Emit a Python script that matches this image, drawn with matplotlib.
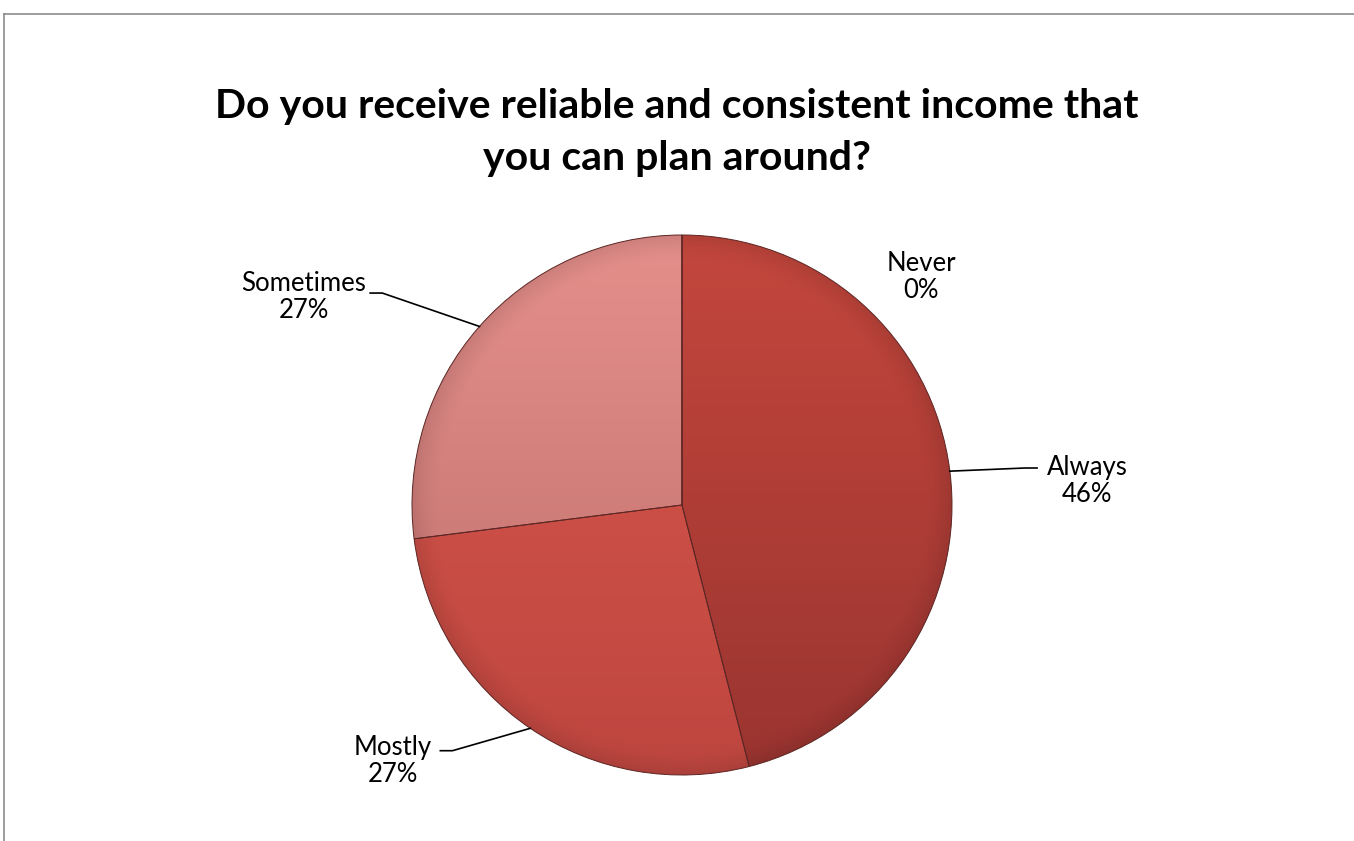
import numpy as np
import matplotlib
matplotlib.use("Agg")
import matplotlib.pyplot as plt
from matplotlib.colors import to_rgb
from matplotlib.lines import Line2D

plt.rcParams["font.family"] = ["Lato", "DejaVu Sans"]

# survey answers, clockwise from 12 o'clock
answers = ["Always", "Mostly", "Sometimes", "Never"]
shares = [46, 27, 27, 0]

# gradient (top, bottom) for each slice
top_colors = ["#C4473D", "#D9584C", "#E58F8B", "#C4473D"]
bottom_colors = ["#9A3430", "#BE4640", "#BC6D6A", "#9A3430"]

# label placement: text centre and leader elbow (pie radius = 1)
label_pos = [(1.50, 0.09), (-1.07, -0.95), (-1.40, 0.77), (0.885, 0.845)]
elbow_pos = [(1.27, 0.137), (-0.85, -0.91), (-1.11, 0.785), None]

W, H = 1354, 841
fig = plt.figure(figsize=(W / 100, H / 100), dpi=100)

# pie centre and radius in pixels
cx, cy, R = 682, 505, 270
half = 1.5 * R
ax = fig.add_axes([(cx - half) / W, (H - cy - half) / H, 2 * half / W, 2 * half / H])

wedges, _ = ax.pie(shares, startangle=90, counterclock=False, radius=1,
                   wedgeprops=dict(facecolor="none", edgecolor="#5b2623",
                                   linewidth=0.7, zorder=3))
ax.axis("off")

# shaded fill inside each wedge
n = 500
gx, gy = np.meshgrid(np.linspace(-1, 1, n), np.linspace(-1, 1, n))
rr = np.sqrt(gx ** 2 + gy ** 2)
t = ((1 - gy) / 2)[..., None]
rim = (1 - 0.10 * np.clip((rr - 0.90) / 0.10, 0, 1) ** 1.5)[..., None]
for w, c0, c1 in zip(wedges, top_colors, bottom_colors):
    img = np.array(to_rgb(c0)) * (1 - t) + np.array(to_rgb(c1)) * t
    img = np.clip(img * rim, 0, 1)
    im = ax.imshow(img, extent=(-1, 1, -1, 1), origin="lower", zorder=2,
                   interpolation="bilinear")
    im.set_clip_path(w)
ax.set_xlim(-1.5, 1.5)
ax.set_ylim(-1.5, 1.5)

# data labels with leader lines
for w, name, val, (tx, ty), elbow in zip(wedges, answers, shares, label_pos, elbow_pos):
    mid = np.deg2rad((w.theta1 + w.theta2) / 2)
    ax_, ay_ = np.cos(mid), np.sin(mid)
    if elbow is not None:
        ex, ey = elbow
        tail = ex + (0.045 if tx > ex else -0.045)
        ax.plot([ax_, ex, tail], [ay_, ey, ey], color="black", lw=1.2,
                zorder=4, clip_on=False)
    ax.text(tx, ty, f"{name}\n{val}%", ha="center", va="center",
            multialignment="center", fontsize=18.5, color="black",
            linespacing=1.1, zorder=5)

fig.text(0.5, 0.843, "Do you receive reliable and consistent income that\nyou can plan around?",
         ha="center", va="center", fontsize=29.5, fontweight="bold",
         linespacing=1.5)

# chart area border
fig.add_artist(Line2D([3.5 / W, 3.5 / W], [0, 1 - 13.5 / H], color="#8c8c8c", lw=1.2))
fig.add_artist(Line2D([3.5 / W, 1], [1 - 13.5 / H, 1 - 13.5 / H], color="#8c8c8c", lw=1.2))

fig.savefig("out.png", dpi=100, facecolor="white")
